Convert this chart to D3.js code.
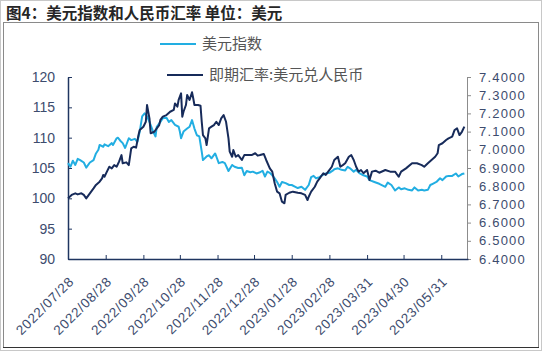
<!DOCTYPE html>
<html>
<head>
<meta charset="utf-8">
<script src="https://cdn.jsdelivr.net/npm/d3@7"></script>
<style>
  body { margin: 0; background: #fff; }
  #chart { width: 542px; height: 351px; }
  .num { font-family: "Liberation Sans", Arial, sans-serif; }
  .cjk { font-family: "Noto Sans CJK SC", sans-serif; }
</style>
</head>
<body>
<div id="chart"></div>
<script>
// data
const dxyDates = ["2022-07-28","2022-07-30","2022-08-01","2022-08-03","2022-08-05","2022-08-07","2022-08-10","2022-08-12","2022-08-15","2022-08-18","2022-08-20","2022-08-22","2022-08-23","2022-08-26","2022-08-27","2022-08-30","2022-09-02","2022-09-03","2022-09-06","2022-09-07","2022-09-09","2022-09-11","2022-09-13","2022-09-16","2022-09-18","2022-09-21","2022-09-23","2022-09-25","2022-09-27","2022-09-29","2022-10-01","2022-10-03","2022-10-06","2022-10-08","2022-10-09","2022-10-12","2022-10-14","2022-10-17","2022-10-19","2022-10-21","2022-10-24","2022-10-27","2022-10-28","2022-10-29","2022-10-31","2022-11-03","2022-11-05","2022-11-07","2022-11-09","2022-11-11","2022-11-13","2022-11-15","2022-11-16","2022-11-19","2022-11-21","2022-11-23","2022-11-26","2022-11-27","2022-11-29","2022-12-02","2022-12-04","2022-12-07","2022-12-10","2022-12-12","2022-12-15","2022-12-18","2022-12-20","2022-12-22","2022-12-25","2022-12-27","2022-12-30","2023-01-02","2023-01-04","2023-01-06","2023-01-08","2023-01-10","2023-01-12","2023-01-14","2023-01-16","2023-01-18","2023-01-20","2023-01-23","2023-01-26","2023-01-28","2023-01-31","2023-02-02","2023-02-05","2023-02-08","2023-02-11","2023-02-13","2023-02-15","2023-02-17","2023-02-20","2023-02-22","2023-02-25","2023-02-28","2023-03-03","2023-03-04","2023-03-07","2023-03-10","2023-03-13","2023-03-15","2023-03-17","2023-03-20","2023-03-22","2023-03-25","2023-03-28","2023-03-31","2023-04-02","2023-04-06","2023-04-10","2023-04-15","2023-04-17","2023-04-20","2023-04-23","2023-04-26","2023-04-28","2023-05-01","2023-05-04","2023-05-07","2023-05-09","2023-05-12","2023-05-15","2023-05-17","2023-05-20","2023-05-22","2023-05-24","2023-05-27","2023-05-30","2023-06-01","2023-06-04","2023-06-06","2023-06-09","2023-06-12","2023-06-14","2023-06-17","2023-06-19"];
const dxyValues = [105.8,105.2,106.2,105.5,106.5,106.3,105.9,105.05,105.9,106.3,107.4,108.0,108.8,108.5,108.9,108.6,109.1,108.8,109.9,110.0,109.5,109.1,108.3,109.9,109.6,109.8,109.3,111.0,113.5,114.0,113.5,112.6,111.0,110.2,111.8,112.6,113.2,113.3,112.6,112.9,112.1,111.8,111.0,109.9,111.0,111.5,111.8,112.9,111.5,110.4,110.2,107.7,106.3,106.9,107.1,106.6,107.4,106.9,105.8,106.0,105.8,104.5,105.5,105.2,105.0,105.05,103.8,104.5,104.3,104.4,104.1,104.3,104.55,103.6,104.4,104.2,103.8,103.3,102.7,101.9,102.7,102.5,102.2,102.2,101.9,101.7,101.9,101.4,102.2,103.5,103.7,103.3,103.5,103.8,104.1,104.2,104.6,104.8,104.95,104.7,104.6,105.2,104.95,104.4,104.7,104.1,103.8,103.6,103.0,102.7,102.4,101.9,102.6,102.2,101.3,101.8,101.5,101.65,101.4,101.3,101.8,101.3,101.4,101.3,101.4,102.2,102.4,102.7,103.3,103.0,103.6,103.7,103.7,104.1,103.6,104.0,104.1];

const cnyDates = ["2022-07-28","2022-07-31","2022-08-03","2022-08-05","2022-08-08","2022-08-10","2022-08-12","2022-08-15","2022-08-18","2022-08-20","2022-08-23","2022-08-25","2022-08-26","2022-08-27","2022-08-29","2022-08-31","2022-09-02","2022-09-04","2022-09-06","2022-09-08","2022-09-10","2022-09-11","2022-09-14","2022-09-16","2022-09-18","2022-09-20","2022-09-22","2022-09-24","2022-09-25","2022-09-28","2022-09-30","2022-10-01","2022-10-03","2022-10-04","2022-10-07","2022-10-09","2022-10-11","2022-10-12","2022-10-14","2022-10-17","2022-10-20","2022-10-23","2022-10-24","2022-10-26","2022-10-27","2022-10-29","2022-10-30","2022-10-31","2022-11-02","2022-11-03","2022-11-05","2022-11-07","2022-11-08","2022-11-09","2022-11-12","2022-11-14","2022-11-15","2022-11-16","2022-11-18","2022-11-19","2022-11-21","2022-11-23","2022-11-25","2022-11-27","2022-11-29","2022-12-01","2022-12-03","2022-12-05","2022-12-07","2022-12-08","2022-12-10","2022-12-11","2022-12-13","2022-12-15","2022-12-18","2022-12-20","2022-12-22","2022-12-26","2022-12-29","2022-12-31","2023-01-02","2023-01-05","2023-01-07","2023-01-10","2023-01-12","2023-01-14","2023-01-16","2023-01-18","2023-01-20","2023-01-22","2023-01-23","2023-01-26","2023-01-29","2023-02-02","2023-02-05","2023-02-08","2023-02-10","2023-02-11","2023-02-13","2023-02-16","2023-02-18","2023-02-20","2023-02-23","2023-02-25","2023-02-27","2023-03-02","2023-03-04","2023-03-07","2023-03-09","2023-03-11","2023-03-13","2023-03-16","2023-03-18","2023-03-20","2023-03-22","2023-03-24","2023-03-26","2023-03-28","2023-03-31","2023-04-02","2023-04-04","2023-04-07","2023-04-10","2023-04-15","2023-04-19","2023-04-23","2023-04-26","2023-04-28","2023-05-02","2023-05-07","2023-05-11","2023-05-15","2023-05-17","2023-05-20","2023-05-23","2023-05-26","2023-05-28","2023-05-29","2023-06-01","2023-06-04","2023-06-06","2023-06-09","2023-06-11","2023-06-13","2023-06-15","2023-06-17","2023-06-19"];
const cnyValues = [6.733,6.752,6.761,6.755,6.761,6.752,6.733,6.761,6.788,6.807,6.825,6.843,6.862,6.852,6.880,6.907,6.898,6.916,6.907,6.935,6.971,6.926,6.931,6.916,7.008,7.017,7.012,7.081,7.109,7.127,7.154,7.246,7.173,7.091,7.099,7.118,7.136,7.164,7.182,7.191,7.209,7.219,7.255,7.237,7.274,7.310,7.182,7.209,7.246,7.301,7.274,7.316,7.283,7.246,7.246,7.242,7.154,7.081,7.063,7.026,7.118,7.127,7.136,7.154,7.136,7.173,7.191,7.154,7.063,6.990,6.962,6.999,6.962,6.971,6.944,6.971,6.971,6.971,6.981,6.968,6.971,6.977,6.944,6.898,6.880,6.816,6.770,6.761,6.715,6.706,6.752,6.764,6.770,6.764,6.761,6.752,6.724,6.742,6.770,6.797,6.825,6.843,6.871,6.862,6.880,6.907,6.944,6.962,6.907,6.916,6.926,6.962,6.971,6.944,6.907,6.880,6.889,6.871,6.889,6.834,6.880,6.885,6.874,6.889,6.880,6.880,6.852,6.880,6.898,6.926,6.926,6.916,6.907,6.926,6.944,6.962,6.981,7.026,7.036,7.054,7.063,7.072,7.109,7.118,7.081,7.099,7.127];

const xTickDates = ["2022-07-28","2022-08-28","2022-09-28","2022-10-28","2022-11-28","2022-12-28","2023-01-28","2023-02-28","2023-03-31","2023-04-30","2023-05-31"];
const leftTicks = [90, 95, 100, 105, 110, 115, 120];
const rightTicks = [6.4, 6.5, 6.6, 6.7, 6.8, 6.9, 7.0, 7.1, 7.2, 7.3, 7.4];
const xStart = "2022-07-28", xEnd = "2023-06-22";

const titleText = "图4：美元指数和人民币汇率 单位：美元";
const dxyName = "美元指数";
const cnyName = "即期汇率:美元兑人民币";

const parse = d3.timeParse("%Y-%m-%d");
const dxy = dxyDates.map((d, i) => ({ date: parse(d), value: dxyValues[i] }));
const cny = cnyDates.map((d, i) => ({ date: parse(d), value: cnyValues[i] }));

const W = 542, H = 351;
const plot = { left: 68, right: 468, top: 77, bottom: 259 };
const lightBlue = "#22aee2", navy = "#172b5a", axisNavy = "#1f3560", labelColor = "#3d4c6e";

const svg = d3.select("#chart").append("svg")
    .attr("width", W)
    .attr("height", H);

// frame
svg.append("rect")
    .attr("x", 0.5).attr("y", 0.5).attr("width", W - 1).attr("height", H - 1)
    .attr("fill", "none").attr("stroke", "#c8c8c8");
svg.append("rect")
    .attr("x", 3.5).attr("y", 22.5).attr("width", 535).attr("height", 325)
    .attr("fill", "none").attr("stroke", "#8a8a8a");
svg.append("line")
    .attr("x1", 3).attr("x2", 539).attr("y1", 347.5).attr("y2", 347.5)
    .attr("stroke", "#333");

svg.append("text")
    .attr("class", "cjk")
    .attr("x", 6).attr("y", 19)
    .attr("font-size", 15.5).attr("font-weight", "bold").attr("fill", "#262626")
    .text(titleText);

// scales
const x = d3.scaleTime()
    .domain([parse(xStart), parse(xEnd)])
    .range([plot.left, plot.right]);

const yL = d3.scaleLinear().domain([90, 120]).range([plot.bottom, plot.top]);
const yR = d3.scaleLinear().domain([6.4, 7.4]).range([plot.bottom, plot.top]);

// axes
const gL = svg.append("g")
    .attr("transform", `translate(${plot.left},0)`)
    .call(d3.axisLeft(yL).tickValues(leftTicks).tickSizeInner(-4).tickSizeOuter(0).tickPadding(13));
gL.select(".domain").attr("stroke", axisNavy).attr("stroke-width", 1.5);
gL.selectAll(".tick line").attr("stroke", axisNavy);
gL.selectAll("text").attr("class", "num").attr("font-size", 14).attr("fill", labelColor);

const gR = svg.append("g")
    .attr("transform", `translate(${plot.right - 1},0)`)
    .call(d3.axisRight(yR).tickValues(rightTicks).tickSizeInner(4).tickSizeOuter(0).tickPadding(8)
      .tickFormat(d3.format(".4f")));
gR.select(".domain").attr("stroke", "#8c8c8c");
gR.selectAll(".tick line").attr("stroke", "#8c8c8c");
gR.selectAll("text").attr("class", "num").attr("font-size", 13)
    .attr("letter-spacing", "1.2px").attr("fill", labelColor);

const gB = svg.append("g")
    .attr("transform", `translate(0,${plot.bottom})`)
    .call(d3.axisBottom(x).tickValues(xTickDates.map(parse)).tickSizeInner(-4).tickSizeOuter(0)
      .tickFormat(d3.timeFormat("%Y/%m/%d")));
gB.select(".domain").attr("stroke", axisNavy).attr("stroke-width", 1.5);
gB.selectAll(".tick line").attr("stroke", axisNavy);
gB.selectAll("text")
    .attr("class", "num")
    .attr("font-size", 13.5)
    .attr("letter-spacing", "0.8px")
    .attr("fill", labelColor)
    .attr("text-anchor", "end")
    .attr("dy", "0.35em")
    .attr("y", 0)
    .attr("transform", "translate(3,20) rotate(-45)");

// lines
const lineL = d3.line().x(d => x(d.date)).y(d => yL(d.value));
const lineR = d3.line().x(d => x(d.date)).y(d => yR(d.value));

svg.append("path")
    .datum(dxy)
    .attr("fill", "none")
    .attr("stroke", lightBlue)
    .attr("stroke-width", 2)
    .attr("stroke-linejoin", "round")
    .attr("d", lineL);

svg.append("path")
    .datum(cny)
    .attr("fill", "none")
    .attr("stroke", navy)
    .attr("stroke-width", 2)
    .attr("stroke-linejoin", "round")
    .attr("d", lineR);

// legend
const legend = [
  { name: dxyName, color: lightBlue, x: 160, y: 44 },
  { name: cnyName, color: navy, x: 167, y: 75 }
];
legend.forEach(l => {
  svg.append("line")
      .attr("x1", l.x).attr("x2", l.x + 36)
      .attr("y1", l.y).attr("y2", l.y)
      .attr("stroke", l.color).attr("stroke-width", 2);
  svg.append("text")
      .attr("class", "cjk")
      .attr("x", l.x + 42).attr("y", l.y)
      .attr("dy", "0.35em")
      .attr("font-size", 15)
      .attr("fill", "#555")
      .text(l.name);
});
</script>
</body>
</html>
